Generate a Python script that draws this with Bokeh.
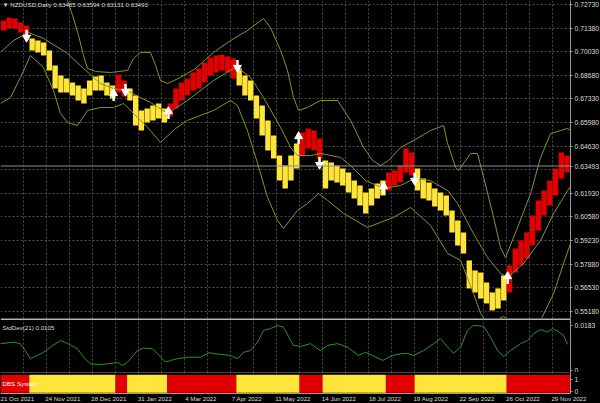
from bokeh.plotting import figure
from bokeh.layouts import column
from bokeh.models import (FixedTicker, Range1d, Span, Label, Grid,
                          NumeralTickFormatter)
from bokeh.embed import file_html
from bokeh.resources import INLINE

# ---------------- data ----------------
symbol_title = "\u25BC NZDUSD,Daily  0.63485 0.63594 0.63131 0.63493"
last_close = 0.63493

date_ticks = [0, 24, 48, 72, 96, 120, 144, 168, 192, 216, 240, 264, 288]
date_labels = ["21 Oct 2021", "24 Nov 2021", "28 Dec 2021", "31 Jan 2022",
               "4 Mar 2022", "7 Apr 2022", "11 May 2022", "14 Jun 2022",
               "18 Jul 2022", "19 Aug 2022", "22 Sep 2022", "26 Oct 2022",
               "29 Nov 2022"]
grid_ticks = [12, 24, 36, 48, 60, 72, 84, 96, 108, 120, 132, 144, 156, 168,
              180, 192, 204, 216, 228, 240, 252, 264, 276, 288]
price_ticks = [0.72730, 0.71380, 0.70030, 0.68680, 0.67330, 0.65980, 0.64630,
               0.63280, 0.61930, 0.60580, 0.59230, 0.57880, 0.56530, 0.55180]

# price, sampled in blocks of 3 daily bars: high / low of each block
blk_high = [0.7182, 0.7199, 0.7193, 0.7170, 0.7153, 0.7079, 0.7067, 0.7056, 0.7010, 0.6924,
            0.6867, 0.6850, 0.6827, 0.6810, 0.6793, 0.6838, 0.6861, 0.6867, 0.6827, 0.6810,
            0.6873, 0.6838, 0.6793, 0.6753, 0.6667, 0.6678, 0.6695, 0.6707, 0.6678, 0.6707,
            0.6793, 0.6827, 0.6850, 0.6884, 0.6907, 0.6941, 0.6970, 0.6981, 0.6987, 0.6976,
            0.6964, 0.6907, 0.6867, 0.6838, 0.6753, 0.6695, 0.6610, 0.6524, 0.6409, 0.6352,
            0.6409, 0.6478, 0.6541, 0.6564, 0.6552, 0.6507, 0.6381, 0.6369, 0.6352, 0.6335,
            0.6312, 0.6266, 0.6238, 0.6198, 0.6221, 0.6249, 0.6266, 0.6312, 0.6324, 0.6352,
            0.6449, 0.6427, 0.6335, 0.6278, 0.6255, 0.6221, 0.6198, 0.6181, 0.6095, 0.6038,
            0.5969, 0.5809, 0.5752, 0.5740, 0.5683, 0.5626, 0.5649, 0.5723, 0.5780, 0.5877,
            0.5923, 0.5969, 0.6066, 0.6152, 0.6209, 0.6266, 0.6335, 0.6427, 0.6409]
blk_low = [0.7124, 0.7136, 0.7136, 0.7113, 0.7090, 0.7010, 0.6999, 0.6981, 0.6896, 0.6793,
           0.6770, 0.6770, 0.6753, 0.6724, 0.6707, 0.6753, 0.6781, 0.6781, 0.6753, 0.6735,
           0.6770, 0.6747, 0.6724, 0.6581, 0.6552, 0.6598, 0.6610, 0.6621, 0.6598, 0.6632,
           0.6678, 0.6724, 0.6753, 0.6781, 0.6793, 0.6827, 0.6867, 0.6884, 0.6896, 0.6884,
           0.6850, 0.6810, 0.6753, 0.6724, 0.6621, 0.6524, 0.6438, 0.6392, 0.6266, 0.6221,
           0.6266, 0.6335, 0.6409, 0.6449, 0.6438, 0.6392, 0.6221, 0.6266, 0.6255, 0.6238,
           0.6198, 0.6163, 0.6123, 0.6078, 0.6123, 0.6163, 0.6181, 0.6209, 0.6238, 0.6255,
           0.6312, 0.6295, 0.6209, 0.6163, 0.6152, 0.6118, 0.6095, 0.6066, 0.5969, 0.5895,
           0.5849, 0.5649, 0.5626, 0.5591, 0.5563, 0.5523, 0.5534, 0.5580, 0.5626, 0.5740,
           0.5780, 0.5820, 0.5895, 0.5980, 0.6066, 0.6123, 0.6181, 0.6278, 0.6312]
# DBS state of each block: 1 = red, 0 = yellow
blk_state = ([1] * 5 + [0] * 15 + [1] * 2 + [0] * 7 + [1] * 12 + [0] * 11 +
             [1] * 4 + [0] * 11 + [1] * 5 + [0] * 16 + [1] * 11)

# bands (bar index, price)
up_x = [0, 15.6, 26.1, 32.3, 35, 37.6, 40.7, 43.3, 45.4, 49.6, 57.4, 66.2, 69.4, 73,
        78.2, 80.9, 83.5, 87.1, 93.9, 101.7, 111.1, 120, 128.8, 137.2, 140.8, 146.1,
        149.7, 152.8, 155.5, 160.1, 166.9, 175.8, 182.6, 189.4, 194.1, 198.2, 202.4,
        208.7, 215.4, 224.3, 231.1, 233.2, 237.4, 238.9, 245.2, 248.8, 252, 257.2,
        260.8, 263.4, 269.7, 276.5, 281.7, 286.9, 292.1, 295.8, 297.3]
up_y = [0.7525, 0.7553, 0.7468, 0.7342, 0.7296, 0.7210, 0.7096, 0.6981, 0.6907, 0.6890,
        0.6884, 0.6896, 0.6964, 0.6999, 0.6999, 0.6924, 0.6838, 0.6821, 0.6856, 0.6907,
        0.6999, 0.7067, 0.7124, 0.7193, 0.7142, 0.7010, 0.6896, 0.6741, 0.6667, 0.6684,
        0.6724, 0.6724, 0.6610, 0.6455, 0.6381, 0.6352, 0.6381, 0.6455, 0.6495, 0.6552,
        0.6581, 0.6478, 0.6341, 0.6324, 0.6421, 0.6421, 0.6284, 0.6055, 0.5883, 0.5826,
        0.5998, 0.6192, 0.6398, 0.6535, 0.6552, 0.6564, 0.6552]
mid_x = [0, 6.8, 14.6, 22.4, 35, 43.3, 52.2, 58.9, 66.2, 73, 78.2, 87.1, 97.5, 111.1,
         121.5, 123.6, 130.4, 137.2, 146.1, 151.3, 154.9, 161.7, 166.9, 177.4, 182.6,
         190.4, 199.8, 208.7, 216, 224.3, 233.2, 238.4, 246.7, 254, 260.8, 264.5, 272.8,
         281.7, 288.5, 295.8, 297.3]
mid_y = [0.6999, 0.7067, 0.7113, 0.7079, 0.6993, 0.6907, 0.6821, 0.6793, 0.6781, 0.6741,
         0.6713, 0.6650, 0.6724, 0.6838, 0.6907, 0.6913, 0.6856, 0.6741, 0.6570, 0.6455,
         0.6409, 0.6409, 0.6421, 0.6398, 0.6352, 0.6266, 0.6221, 0.6238, 0.6278, 0.6266,
         0.6209, 0.6135, 0.5963, 0.5826, 0.5735, 0.5712, 0.5792, 0.5923, 0.6078, 0.6209,
         0.6232]
lo_x = [0, 5.2, 10.4, 15.6, 22.4, 27.6, 31.3, 35, 40.2, 45.4, 52.2, 58.9, 64.2, 69.4,
        76.7, 83.5, 91.3, 97.5, 111.1, 120, 123.6, 128.8, 134.1, 139.3, 144.5, 147.6,
        154.9, 160.1, 165.9, 170.6, 178.9, 191.4, 205, 213.9, 224.3, 233.2, 240, 246.7,
        250.4, 253.5, 258.2, 262.4, 267.1, 273.9, 281.7, 288.5, 293.7, 297.3]
lo_y = [0.6707, 0.6741, 0.6856, 0.6981, 0.6913, 0.6781, 0.6650, 0.6598, 0.6581, 0.6667,
        0.6684, 0.6684, 0.6707, 0.6650, 0.6570, 0.6484, 0.6564, 0.6610, 0.6667, 0.6724,
        0.6695, 0.6552, 0.6364, 0.6169, 0.6038, 0.5992, 0.6095, 0.6135, 0.6192, 0.6152,
        0.6078, 0.5998, 0.6055, 0.6112, 0.6009, 0.5849, 0.5809, 0.5620, 0.5506, 0.5454,
        0.5466, 0.5489, 0.5454, 0.5431, 0.5466, 0.5620, 0.5792, 0.5906]

# signal arrows (bar index, price, direction)
arr_x = [13.6, 59, 65.2, 87.6, 123.6, 155.5, 166.4, 199.8, 216, 264.5]
arr_y = [0.7096, 0.6753, 0.6787, 0.6650, 0.6924, 0.6507, 0.6369, 0.6221, 0.6278, 0.5706]
arr_dir = ["down", "up", "down", "up", "down", "up", "down", "up", "down", "up"]

# StdDev(21)
sd_x = [0, 6.8, 10.4, 15.6, 19.3, 22.4, 26.1, 31.3, 35, 40.2, 43.3, 46.9, 52.2, 58.9,
        61, 63.6, 66.2, 71.5, 74.6, 79.3, 81.9, 86.1, 88.7, 92.3, 97.5, 104.3, 108.5,
        112.2, 120, 123.6, 126.8, 130.4, 134.1, 137.2, 140.8, 144.5, 147.6, 151.3,
        152.8, 156.5, 161.7, 166.9, 170.6, 175.8, 181, 186.7, 190.4, 194.1, 199.3,
        204.5, 208.7, 212.3, 215.4, 220.7, 225.9, 229.5, 233.2, 236.3, 240, 243.6,
        246.7, 252, 255.6, 259.3, 262.4, 266, 271.3, 274.9, 278, 281.7, 285.3, 288,
        290.6, 293.7, 295.8]
sd_v = [0.0109, 0.0115, 0.0109, 0.0048, 0.0061, 0.0074, 0.0095, 0.0122, 0.0109, 0.0088,
        0.0054, 0.0027, 0.0024, 0.0030, 0.0034, 0.0020, 0.0034, 0.0081, 0.0091, 0.0088,
        0.0068, 0.0034, 0.0041, 0.0048, 0.0054, 0.0054, 0.0072, 0.0068, 0.0061, 0.0048,
        0.0074, 0.0081, 0.0115, 0.0163, 0.0170, 0.0183, 0.0176, 0.0122, 0.0102, 0.0098,
        0.0109, 0.0081, 0.0102, 0.0109, 0.0095, 0.0061, 0.0074, 0.0061, 0.0041, 0.0061,
        0.0068, 0.0070, 0.0061, 0.0081, 0.0109, 0.0129, 0.0095, 0.0070, 0.0095, 0.0163,
        0.0183, 0.0179, 0.0135, 0.0081, 0.0057, 0.0081, 0.0109, 0.0122, 0.0149, 0.0166,
        0.0156, 0.0170, 0.0160, 0.0142, 0.0106]
sd_label = "StdDev(21) 0.0105"
sd_ticks = [0, 0.0183]
dbs_label = "DBS System"
dbs_ticks = [0, 1]

# ---------------- style ----------------
BG = "#000000"
GRID = "#4a4a4a"
AXC = "#9c9c9c"
TXT = "#dcdcdc"
YEL = "#FFE53B"
RED = "#E00000"
BAND = "#8a9036"
SDC = "#2f8f2f"
FONT = "Liberation Sans"
FW = 570
BLK = 3
LABEL_SHIFT = 8.5   # centred date labels shifted so they start at their tick

x_range = Range1d(0, 297.3)


def base(fig):
    fig.background_fill_color = BG
    fig.border_fill_color = BG
    fig.outline_line_color = None
    fig.min_border_left = 0
    fig.min_border_top = 0
    fig.min_border_right = 30
    fig.xgrid.visible = False
    fig.ygrid.visible = False
    ax = fig.yaxis[0]
    ax.axis_line_color = AXC
    ax.major_tick_line_color = AXC
    ax.major_tick_out = 2
    ax.major_tick_in = 0
    ax.minor_tick_line_color = None
    ax.major_label_standoff = 2
    ax.major_label_text_color = TXT
    ax.major_label_text_font = FONT
    ax.major_label_text_font_size = "6.8px"
    fig.add_layout(Grid(dimension=0, ticker=FixedTicker(ticks=grid_ticks),
                        grid_line_color=GRID, grid_line_dash="2 2"))


# main price panel
main = figure(frame_width=FW, frame_height=318, x_range=x_range,
              y_range=Range1d(0.5477, 0.7296), x_axis_location=None,
              y_axis_location="right", output_backend="svg",
              toolbar_location=None)
base(main)
main.min_border_bottom = 0
axis_ticks = [t for t in price_ticks if abs(t - last_close) > 0.003] + [last_close]
main.yaxis[0].ticker = FixedTicker(ticks=axis_ticks)
main.yaxis[0].formatter = NumeralTickFormatter(format="0.00000")
main.add_layout(Grid(dimension=1, ticker=FixedTicker(ticks=price_ticks),
                     grid_line_color=GRID, grid_line_dash="2 2"))
main.add_layout(Span(location=last_close, dimension="width",
                     line_color="#8c8c8c", line_width=1))

centers = [i * BLK + BLK / 2 for i in range(len(blk_high))]
colors = [RED if s else YEL for s in blk_state]
main.vbar(x=centers, width=2.8, top=blk_high, bottom=blk_low,
          fill_color=colors, line_color=None)

main.line(up_x, up_y, line_color=BAND, line_width=1)
main.line(mid_x, mid_y, line_color=BAND, line_width=1)
main.line(lo_x, lo_y, line_color=BAND, line_width=1)

for xs, ys, d in zip(arr_x, arr_y, arr_dir):
    s = 1 if d == "up" else -1
    main.segment(x0=[xs], y0=[ys + s * 0.0008], x1=[xs], y1=[ys - s * 0.0032],
                 line_color="white", line_width=2.5)
    main.scatter(x=[xs], y=[ys + s * 0.0012], size=8,
                 marker="triangle" if d == "up" else "inverted_triangle",
                 fill_color="white", line_color="white")

main.add_layout(Label(x=0, y=0.7296, text=symbol_title, x_offset=2,
                      text_baseline="top", text_color=TXT, text_font=FONT,
                      text_font_size="6.2px"))

# StdDev panel
std = figure(frame_width=FW, frame_height=54, x_range=x_range,
             y_range=Range1d(-0.0008, 0.0211), x_axis_location=None,
             y_axis_location="right", output_backend="svg",
             toolbar_location=None)
base(std)
std.min_border_bottom = 0
std.yaxis[0].ticker = FixedTicker(ticks=sd_ticks)
std.yaxis[0].major_label_overrides = {0: "0", 0.0183: "0.0183"}
std.line(sd_x, sd_v, line_color=SDC, line_width=1)
std.add_layout(Span(location=0.0211, dimension="width",
                    line_color="#b4b4b4", line_width=3))
std.add_layout(Label(x=0, y=0.0211, text=sd_label, x_offset=2, y_offset=-5,
                     text_baseline="top", text_color=TXT, text_font=FONT,
                     text_font_size="6.2px"))

# DBS panel
dbs = figure(frame_width=FW, frame_height=21, x_range=x_range,
             y_range=Range1d(-0.15, 1.6), y_axis_location="right",
             output_backend="svg", toolbar_location=None)
base(dbs)
dbs.min_border_bottom = 10
dbs.yaxis[0].ticker = FixedTicker(ticks=dbs_ticks)

# merge consecutive blocks of the same state into runs
run_l, run_r, run_c = [], [], []
for i, s in enumerate(blk_state):
    if run_c and run_c[-1] == s:
        run_r[-1] = i * BLK + BLK
    else:
        run_l.append(i * BLK)
        run_r.append(i * BLK + BLK)
        run_c.append(s)
dbs.quad(left=run_l, right=run_r, top=1.42, bottom=-0.08,
         fill_color=[RED if s else YEL for s in run_c], line_color=None)
dbs.add_layout(Span(location=1.6, dimension="width",
                    line_color="#8c8c8c", line_width=1))
dbs.add_layout(Label(x=0, y=0.67, text=dbs_label, x_offset=2,
                     text_baseline="middle", text_color="#f4f4f4",
                     text_font=FONT, text_font_size="6.2px"))
xa = dbs.xaxis[0]
shifted = [t + LABEL_SHIFT for t in date_ticks]
xa.ticker = FixedTicker(ticks=shifted)
xa.major_label_overrides = {t: l for t, l in zip(shifted, date_labels)}
xa.major_label_text_color = TXT
xa.major_label_text_font = FONT
xa.major_label_text_font_size = "6.2px"
xa.major_label_standoff = 1
xa.axis_line_color = AXC
xa.major_tick_line_color = None
xa.major_tick_out = 0
xa.major_tick_in = 0
xa.minor_tick_line_color = None

layout = column(main, std, dbs, spacing=0)
layout.styles = {"background-color": BG}

open("out.html", "w").write(file_html(layout, INLINE))
